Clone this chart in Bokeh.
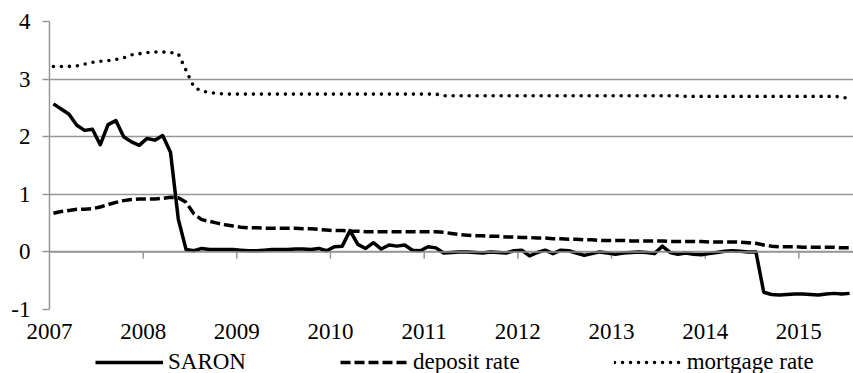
from bokeh.plotting import figure
from bokeh.layouts import column
from bokeh.models import Range1d, FixedTicker, Legend, LegendItem, Span
from bokeh.embed import file_html
from bokeh.resources import INLINE

# ---- data (monthly, Jan 2007 - Jul 2015) ----
start_year = 2007
year_ticks = [2007, 2008, 2009, 2010, 2011, 2012, 2013, 2014, 2015]
y_ticks = [-1, 0, 1, 2, 3, 4]

saron = [2.57, 2.48, 2.39, 2.20, 2.11, 2.13, 1.86, 2.21, 2.28, 2.00, 1.91, 1.85,
         1.97, 1.94, 2.02, 1.73, 0.57, 0.04, 0.02, 0.06, 0.04, 0.04, 0.04, 0.04,
         0.03, 0.02, 0.02, 0.03, 0.04, 0.04, 0.04, 0.05, 0.05, 0.04, 0.06, 0.02,
         0.09, 0.10, 0.37, 0.13, 0.06, 0.16, 0.05, 0.12, 0.10, 0.12, 0.03, 0.02,
         0.09, 0.07, -0.02, -0.01, 0.00, 0.00, -0.01, -0.02, 0.00, -0.01, -0.02, 0.02,
         0.03, -0.07, -0.01, 0.03, -0.03, 0.03, 0.02, -0.02, -0.06, -0.03, 0.00, -0.02,
         -0.04, -0.02, -0.01, 0.00, -0.01, -0.03, 0.10, -0.01, -0.04, -0.02, -0.04, -0.05,
         -0.03, -0.01, 0.01, 0.02, 0.01, 0.00, 0.00, -0.70, -0.74, -0.75, -0.74, -0.73,
         -0.73, -0.74, -0.75, -0.73, -0.72, -0.73, -0.72]

deposit = [0.67, 0.70, 0.72, 0.74, 0.74, 0.75, 0.78, 0.82, 0.86, 0.89, 0.91, 0.92,
           0.92, 0.92, 0.93, 0.95, 0.94, 0.86, 0.66, 0.56, 0.53, 0.50, 0.47, 0.45,
           0.43, 0.42, 0.42, 0.41, 0.41, 0.41, 0.41, 0.41, 0.40, 0.40, 0.39, 0.38,
           0.37, 0.37, 0.36, 0.36, 0.35, 0.35, 0.35, 0.35, 0.35, 0.35, 0.35, 0.35,
           0.35, 0.35, 0.34, 0.32, 0.30, 0.29, 0.28, 0.28, 0.27, 0.27, 0.26, 0.26,
           0.25, 0.25, 0.24, 0.24, 0.23, 0.23, 0.22, 0.22, 0.21, 0.21, 0.20, 0.20,
           0.20, 0.20, 0.19, 0.19, 0.19, 0.19, 0.19, 0.18, 0.18, 0.18, 0.18, 0.18,
           0.17, 0.17, 0.17, 0.17, 0.17, 0.16, 0.15, 0.12, 0.10, 0.09, 0.09, 0.09,
           0.08, 0.08, 0.08, 0.08, 0.08, 0.07, 0.07]

mortgage = [3.22, 3.22, 3.22, 3.23, 3.26, 3.29, 3.31, 3.32, 3.34, 3.37, 3.42, 3.44,
            3.46, 3.47, 3.47, 3.46, 3.44, 3.15, 2.86, 2.79, 2.77, 2.75, 2.74, 2.74,
            2.74, 2.74, 2.74, 2.74, 2.74, 2.74, 2.74, 2.74, 2.74, 2.74, 2.74, 2.74,
            2.74, 2.74, 2.74, 2.74, 2.74, 2.74, 2.74, 2.74, 2.74, 2.74, 2.74, 2.74,
            2.74, 2.74, 2.71, 2.71, 2.71, 2.71, 2.71, 2.71, 2.71, 2.71, 2.71, 2.71,
            2.71, 2.71, 2.71, 2.71, 2.71, 2.71, 2.71, 2.71, 2.71, 2.71, 2.71, 2.71,
            2.71, 2.71, 2.71, 2.71, 2.71, 2.71, 2.71, 2.71, 2.71, 2.70, 2.70, 2.70,
            2.70, 2.70, 2.70, 2.70, 2.70, 2.70, 2.70, 2.70, 2.70, 2.70, 2.70, 2.70,
            2.70, 2.70, 2.70, 2.70, 2.70, 2.69, 2.66]

series_labels = ["SARON", "deposit rate", "mortgage rate"]

# month centres (points sit between the yearly tick marks)
n = len(saron)
x = [start_year + (i + 0.5) / 12 for i in range(n)]

FONT = "Liberation Serif"
GRID = "#969696"

SARON_STYLE = dict(line_color="black", line_width=3.5, line_join="round")
DEPOSIT_STYLE = dict(line_color="black", line_width=3.5, line_dash="10 4")
MORTGAGE_STYLE = dict(line_color="black", line_width=3.6, line_dash="0 8",
                      line_cap="round")

p = figure(width=853, height=345, output_backend="svg", toolbar_location=None,
           x_range=Range1d(start_year, start_year + n / 12),
           y_range=Range1d(-1, 4),
           min_border_left=49, min_border_right=0, min_border_top=21,
           min_border_bottom=36)
p.outline_line_color = None
p.background_fill_color = "white"
p.border_fill_color = "white"

p.xgrid.grid_line_color = None
p.ygrid.grid_line_color = GRID
p.ygrid.grid_line_width = 1.5
p.ygrid.ticker = FixedTicker(ticks=y_ticks)

# bottom axis: labels only
xa = p.xaxis[0]
xa.ticker = FixedTicker(ticks=year_ticks)
xa.axis_line_color = None
xa.major_tick_line_color = None
xa.minor_tick_line_color = None
xa.major_tick_out = 0
xa.major_tick_in = 0
xa.minor_tick_out = 0
xa.minor_tick_in = 0
xa.major_label_standoff = 14
xa.major_label_text_font = FONT
xa.major_label_text_font_size = "23px"
xa.major_label_text_color = "black"
xa.major_label_overrides = {t: str(t) for t in year_ticks}

ya = p.yaxis[0]
ya.ticker = FixedTicker(ticks=y_ticks)
ya.axis_line_color = GRID
ya.axis_line_width = 1.5
ya.major_tick_line_color = GRID
ya.major_tick_line_width = 1.5
ya.major_tick_out = 7
ya.major_tick_in = 0
ya.minor_tick_out = 0
ya.minor_tick_in = 0
ya.minor_tick_line_color = None
ya.major_label_standoff = 12
ya.major_label_text_font = FONT
ya.major_label_text_font_size = "23px"
ya.major_label_text_color = "black"
ya.major_label_overrides = {t: str(t) for t in y_ticks}

# horizontal axis line at zero with tick marks
p.add_layout(Span(location=0, dimension="width", line_color=GRID, line_width=1.5))
p.segment(x0=year_ticks[1:], y0=[0] * (len(year_ticks) - 1),
          x1=year_ticks[1:], y1=[-0.12] * (len(year_ticks) - 1),
          line_color=GRID, line_width=1.5)

p.line(x, saron, **SARON_STYLE)
p.line(x, deposit, **DEPOSIT_STYLE)
p.line(x, mortgage, **MORTGAGE_STYLE)

# legend strip below the chart (its own renderers lie outside its visible range)
lg = figure(width=853, height=28, output_backend="svg", toolbar_location=None,
            x_range=Range1d(0, 1), y_range=Range1d(10, 11),
            x_axis_location=None, y_axis_location=None,
            min_border_left=0, min_border_right=0, min_border_top=0,
            min_border_bottom=0)
lg.grid.visible = False
lg.outline_line_color = None
lg.background_fill_color = "white"
lg.border_fill_color = "white"
l1 = lg.line(x, saron, **SARON_STYLE)
l2 = lg.line(x, deposit, **DEPOSIT_STYLE)
l3 = lg.line(x, mortgage, **MORTGAGE_STYLE)

legend = Legend(items=[LegendItem(label=series_labels[0], renderers=[l1]),
                       LegendItem(label=series_labels[1], renderers=[l2]),
                       LegendItem(label=series_labels[2], renderers=[l3])],
                orientation="horizontal", location=(46, -2),
                spacing=94, glyph_width=68, glyph_height=20, label_standoff=5,
                label_text_font=FONT, label_text_font_size="23px",
                label_text_font_style="normal",
                label_text_color="black", label_height=20,
                padding=0, margin=0, border_line_alpha=0,
                background_fill_alpha=0)
lg.add_layout(legend)

layout = column(p, lg, spacing=0)
open("out.html", "w").write(file_html(layout, INLINE))
